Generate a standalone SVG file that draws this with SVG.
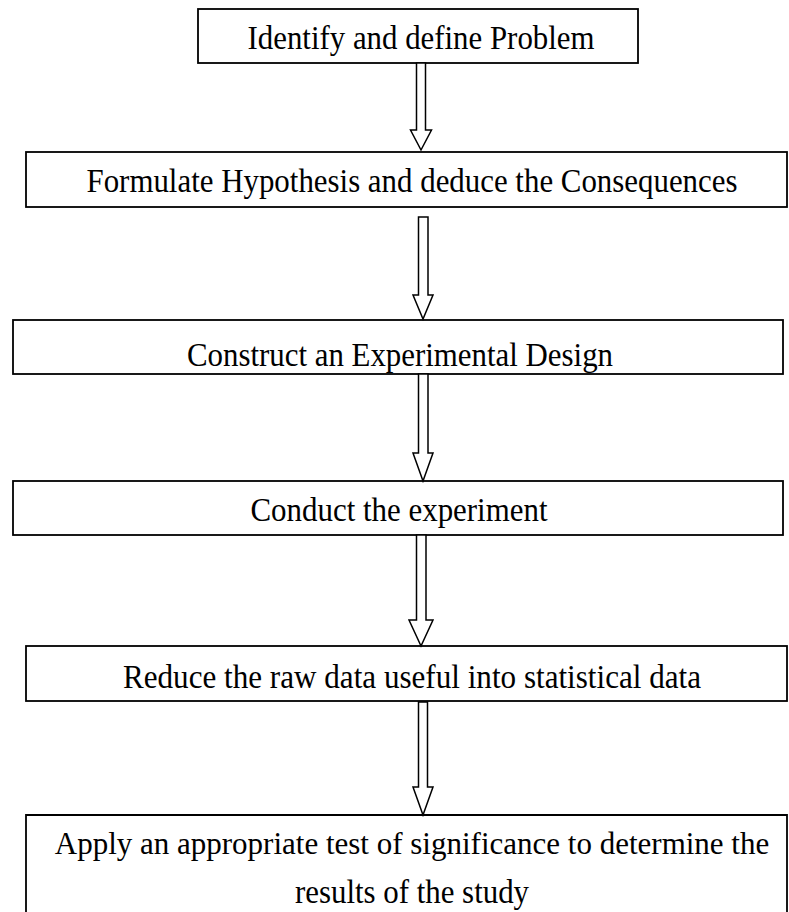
<svg xmlns="http://www.w3.org/2000/svg" width="789" height="912" viewBox="0 0 789 912">
<style>
.box{fill:#fff;stroke:#000;stroke-width:1.8}
.arr{fill:#fff;stroke:#000;stroke-width:1.5;stroke-linejoin:miter}
.t{font-family:"Liberation Serif","Times New Roman",serif;font-size:33px;fill:#000;text-anchor:middle}
.s{font-size:31px}
</style>
<rect width="789" height="912" fill="#fff"/>
<g id="n1"><rect class="box" x="198" y="9" width="440" height="54"/><text class="t" x="421" y="49" textLength="347" lengthAdjust="spacingAndGlyphs">Identify and define Problem</text></g>
<g id="n2"><rect class="box" x="26" y="152" width="761" height="55"/><text class="t" x="412" y="192" textLength="651" lengthAdjust="spacingAndGlyphs">Formulate Hypothesis and deduce the Consequences</text></g>
<g id="n3"><rect class="box" x="13" y="320" width="770" height="54"/><text class="t" x="400" y="366" textLength="426" lengthAdjust="spacingAndGlyphs">Construct an Experimental Design</text></g>
<g id="n4"><rect class="box" x="13" y="481" width="770" height="54"/><text class="t" x="399" y="521" textLength="297" lengthAdjust="spacingAndGlyphs">Conduct the experiment</text></g>
<g id="n5"><rect class="box" x="26" y="646" width="761" height="55"/><text class="t" x="412" y="688" textLength="578" lengthAdjust="spacingAndGlyphs">Reduce the raw data useful into statistical data</text></g>
<g id="n6"><path class="box" d="M26,912 V815 H787 V912"/><text class="t s" x="412" y="854">Apply an appropriate test of significance to determine the</text><text class="t" x="412" y="903" textLength="234" lengthAdjust="spacingAndGlyphs">results of the study</text></g>
<g id="connectors">
<path class="arr" d="M416.5,63 L425.5,63 L425.5,130 L431.5,130 L421,150 L410.5,130 L416.5,130 Z"/>
<path class="arr" d="M418.5,217 L428,217 L428,295 L433,295 L423,319 L413,295 L418.5,295 Z"/>
<path class="arr" d="M418.5,374 L428,374 L428,453 L433,453 L423,481 L413,453 L418.5,453 Z"/>
<path class="arr" d="M416.5,535 L426,535 L426,620 L433,620 L421,646 L409,620 L416.5,620 Z"/>
<path class="arr" d="M418.5,702 L427.5,702 L427.5,787 L433,787 L423,815 L413,787 L418.5,787 Z"/>
</g>
</svg>
